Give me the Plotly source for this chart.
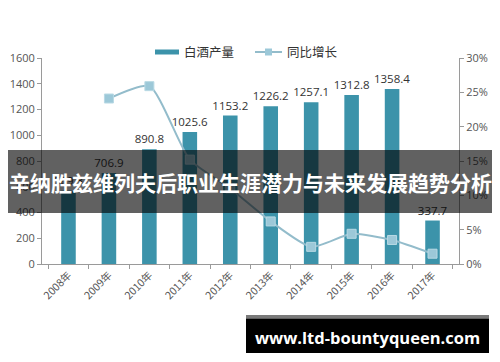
import plotly.graph_objects as go

years = ["2008年", "2009年", "2010年", "2011年", "2012年", "2013年", "2014年", "2015年", "2016年", "2017年"]
output = [569.3, 706.9, 890.8, 1025.6, 1153.2, 1226.2, 1257.1, 1312.8, 1358.4, 337.7]
growth = [None, 24.1, 25.9, 15.2, 11.0, 6.2, 2.5, 4.4, 3.5, 1.5]
output_labels = ["569.3", "706.9", "890.8", "1025.6", "1153.2", "1226.2", "1257.1", "1312.8", "1358.4", "337.7"]

W, H = 500, 362
BAR_C = "#3C93AA"
LINE_C = "#93BCCB"
MARK_C = "#9CC8D8"
FONT = "Noto Sans CJK SC"

fig = go.Figure()
fig.add_trace(go.Bar(
    x=years, y=output, text=output_labels, textposition="outside", constraintext="none",
    textfont=dict(size=11.5, color="#333333", family="Open Sans"),
    marker=dict(color=BAR_C, line=dict(width=0)), width=0.36,
    cliponaxis=False, showlegend=False, name="白酒产量"))
fig.add_trace(go.Scatter(
    x=years, y=growth, yaxis="y2", mode="lines+markers",
    line=dict(color=LINE_C, width=2, shape="spline", smoothing=0.6),
    marker=dict(symbol="square", size=9, color=MARK_C, line=dict(color="#B8D9E4", width=1)),
    showlegend=False, name="同比增长"))

def px(x):
    return x / W

def py(y):
    return 1 - y / H

fig.update_layout(
    width=W, height=H, margin=dict(l=0, r=0, t=0, b=0),
    paper_bgcolor="white", plot_bgcolor="white",
    showlegend=False, bargap=0.64, uniformtext=dict(mode=False),
    font=dict(family=FONT, color="#555555", size=11),
    xaxis=dict(domain=[px(42), px(459)], automargin=False, showgrid=False,
               showline=True, linecolor="#9a9a9a", linewidth=1,
               ticks="outside", ticklen=4, tickcolor="#9a9a9a", tickson="boundaries",
               tickangle=-45, tickfont=dict(size=10.5, color="#555555", family=FONT)),
    yaxis=dict(domain=[py(264), py(58)], automargin=False, range=[0, 1600], dtick=200,
               showgrid=False, zeroline=False, showline=True, linecolor="#9a9a9a",
               ticks="outside", ticklen=4, tickcolor="#9a9a9a",
               tickfont=dict(size=11, color="#555555", family="Open Sans")),
    yaxis2=dict(overlaying="y", side="right", range=[0, 30], dtick=5, ticksuffix="%",
                automargin=False, showgrid=False, zeroline=False, showline=True,
                linecolor="#9a9a9a", ticks="outside", ticklen=4, tickcolor="#9a9a9a",
                tickfont=dict(size=11, color="#555555", family="Open Sans")),
)

shapes = []
annotations = []
# legend
shapes.append(dict(type="line", xref="paper", yref="paper", x0=px(155), x1=px(179), y0=py(52), y1=py(52),
                   line=dict(color=BAR_C, width=5)))
annotations.append(dict(xref="paper", yref="paper", x=px(182), y=py(52), text="白酒产量", showarrow=False,
                        xanchor="left", yanchor="middle", font=dict(size=12.5, color="#333333", family=FONT)))
shapes.append(dict(type="line", xref="paper", yref="paper", x0=px(255), x1=px(282), y0=py(52), y1=py(52),
                   line=dict(color=LINE_C, width=2)))
shapes.append(dict(type="rect", xref="paper", yref="paper", x0=px(265), x1=px(272), y0=py(48.5), y1=py(55.5),
                   line=dict(width=0), fillcolor=MARK_C))
annotations.append(dict(xref="paper", yref="paper", x=px(285), y=py(52), text="同比增长", showarrow=False,
                        xanchor="left", yanchor="middle", font=dict(size=12.5, color="#333333", family=FONT)))
# title banner
shapes.append(dict(type="rect", xref="paper", yref="paper", x0=px(8), x1=px(492), y0=py(213), y1=py(150),
                   line=dict(width=0), fillcolor="rgba(0,0,0,0.62)", layer="above"))
annotations.append(dict(xref="paper", yref="paper", x=px(250), y=py(182),
                        text="<b>辛纳胜兹维列夫后职业生涯潜力与未来发展趋势分析</b>", showarrow=False,
                        xanchor="center", yanchor="middle", font=dict(size=21, color="white", family=FONT)))
# url box
shapes.append(dict(type="rect", xref="paper", yref="paper", x0=px(246), x1=px(489), y0=py(318.5), y1=py(315),
                   line=dict(width=0), fillcolor="#7a7a7a", layer="above"))
shapes.append(dict(type="rect", xref="paper", yref="paper", x0=px(246), x1=px(489), y0=py(353), y1=py(318.5),
                   line=dict(width=0), fillcolor="black", layer="above"))
annotations.append(dict(xref="paper", yref="paper", x=px(367.5), y=py(337),
                        text="<b>www.ltd-bountyqueen.com</b>", showarrow=False,
                        xanchor="center", yanchor="middle", font=dict(size=16.5, color="white", family="Open Sans")))

fig.update_layout(shapes=shapes, annotations=annotations)
fig.write_html("out.html")
